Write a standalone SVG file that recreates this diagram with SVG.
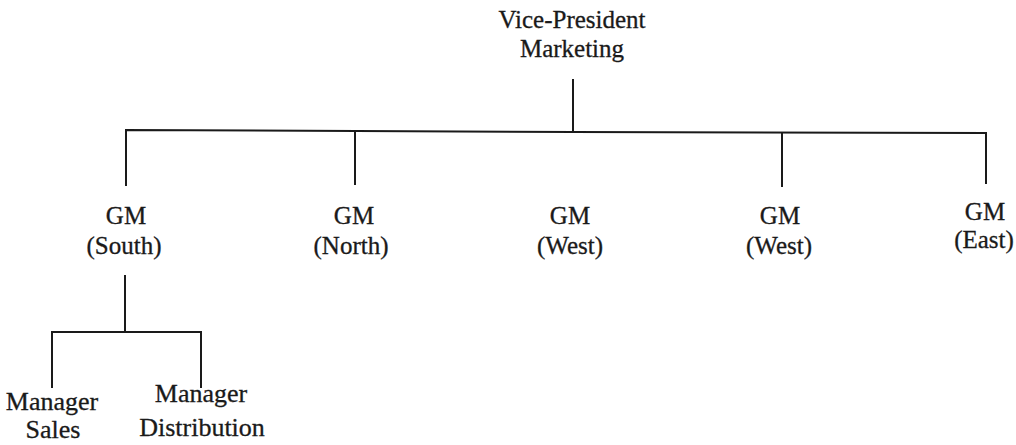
<svg xmlns="http://www.w3.org/2000/svg" width="1016" height="445" viewBox="0 0 1016 445">
<style>
text{font-family:"Liberation Serif","Times New Roman",serif;font-size:25px;fill:#1a1a1a;stroke:#1a1a1a;stroke-width:0.3;text-anchor:middle}
.b{font-size:26px}
.c{stroke:#1a1a1a;stroke-width:2;fill:none}
</style>
<rect width="1016" height="445" fill="#ffffff"/>
<g id="connectors" class="c">
<line x1="573" y1="79" x2="573" y2="132"/>
<polyline points="126,186 126,130 573,132 986,133 986,184"/>
<line x1="355" y1="131" x2="355" y2="185"/>
<line x1="782" y1="133" x2="782" y2="187"/>
<line x1="125" y1="275" x2="125" y2="332"/>
<polyline points="52,388 52,332 201,332 201,388"/>
</g>
<g id="vp"><text x="572" y="28">Vice-President</text><text x="572" y="57">Marketing</text></g>
<g id="gm-south"><text x="126" y="224">GM</text><text x="124" y="254">(South)</text></g>
<g id="gm-north"><text x="354" y="224">GM</text><text x="351" y="254">(North)</text></g>
<g id="gm-west1"><text x="570" y="224">GM</text><text x="570" y="254">(West)</text></g>
<g id="gm-west2"><text x="780" y="224">GM</text><text x="779" y="254">(West)</text></g>
<g id="gm-east"><text x="985" y="220">GM</text><text x="984" y="248">(East)</text></g>
<g id="mgr-sales"><text class="b" x="52" y="410">Manager</text><text class="b" x="53" y="438">Sales</text></g>
<g id="mgr-dist"><text class="b" x="201" y="402">Manager</text><text class="b" x="202" y="436">Distribution</text></g>
</svg>
